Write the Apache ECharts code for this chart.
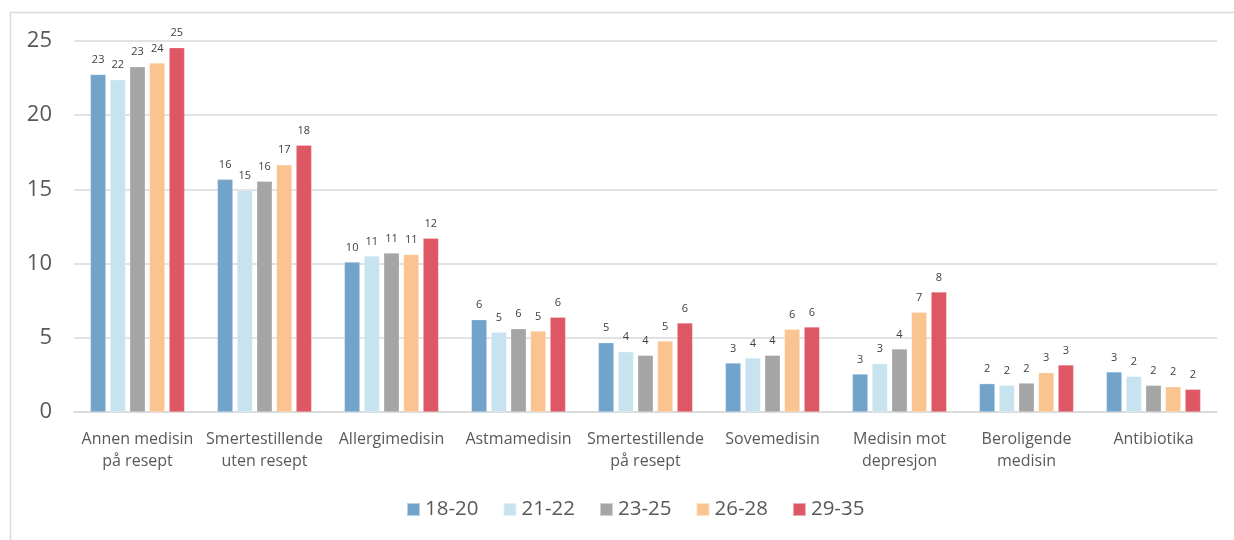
<!DOCTYPE html>
<html>
<head>
<meta charset="utf-8">
<script src="https://cdn.jsdelivr.net/npm/echarts@6/dist/echarts.min.js"></script>
<style>
html,body{margin:0;padding:0;background:#fff;}
#c{width:1234px;height:540px;}
</style>
</head>
<body>
<div id="c"></div>
<script>
const categories = ["Annen medisin\npå resept","Smertestillende\nuten resept","Allergimedisin","Astmamedisin","Smertestillende\npå resept","Sovemedisin","Medisin mot\ndepresjon","Beroligende\nmedisin","Antibiotika"];
const seriesNames = ["18-20","21-22","23-25","26-28","29-35"];
const s1820 = [22.74,15.68,10.10,6.22,4.67,3.30,2.56,1.91,2.70];
const s2122 = [22.39,14.94,10.52,5.37,4.06,3.64,3.26,1.80,2.40];
const s2325 = [23.27,15.55,10.71,5.61,3.82,3.82,4.25,1.95,1.80];
const s2628 = [23.52,16.66,10.62,5.46,4.78,5.57,6.72,2.65,1.70];
const s2935 = [24.55,17.97,11.70,6.38,6.00,5.73,8.09,3.17,1.53];
const yTicks = [0,5,10,15,20,25];
const colors = ["#72A3CB","#C7E3EF","#A5A5A5","#FAC491","#DE5764"];

const font = "'Open Sans', 'Noto Sans', sans-serif";
const allData = [s1820,s2122,s2325,s2628,s2935];

const chart = echarts.init(document.getElementById('c'), null, {renderer:'canvas'});
chart.setOption({
  animation:false,
  textStyle:{fontFamily:font},
  graphic:[{type:'rect',shape:{x:10.5,y:12.5,width:1260,height:560},style:{fill:'none',stroke:'#D9D9D9',lineWidth:1.5},silent:true,z:-1}],
  grid:{left:74,right:17,top:41,bottom:128,containLabel:false},
  legend:{
    data:seriesNames,
    bottom:15,left:401,
    itemWidth:13,itemHeight:13,itemGap:24,
    icon:'rect',
    textStyle:{fontSize:20.5,color:'#595959',fontFamily:font}
  },
  xAxis:{
    type:'category',data:categories,
    axisLine:{lineStyle:{color:'#D9D9D9',width:1.5}},
    axisTick:{show:false},
    axisLabel:{fontSize:16,color:'#595959',lineHeight:22,margin:16,interval:0,fontFamily:font}
  },
  yAxis:{
    type:'value',min:0,max:25,interval:5,
    axisLine:{show:false},axisTick:{show:false},
    splitLine:{lineStyle:{color:'#D9D9D9',width:1.5}},
    axisLabel:{fontSize:22,color:'#595959',margin:22,fontFamily:font}
  },
  series:seriesNames.map((n,i)=>({
    name:n,type:'bar',data:allData[i],
    barWidth:15.5,barGap:'27%',
    itemStyle:{color:colors[i],borderColor:'rgba(255,255,255,0.5)',borderWidth:0.5},
    label:{show:true,position:'top',distance:9,fontSize:11,color:'#404040',fontFamily:font,
      formatter:p=>Math.round(p.value)}
  }))
});
</script>
</body>
</html>
